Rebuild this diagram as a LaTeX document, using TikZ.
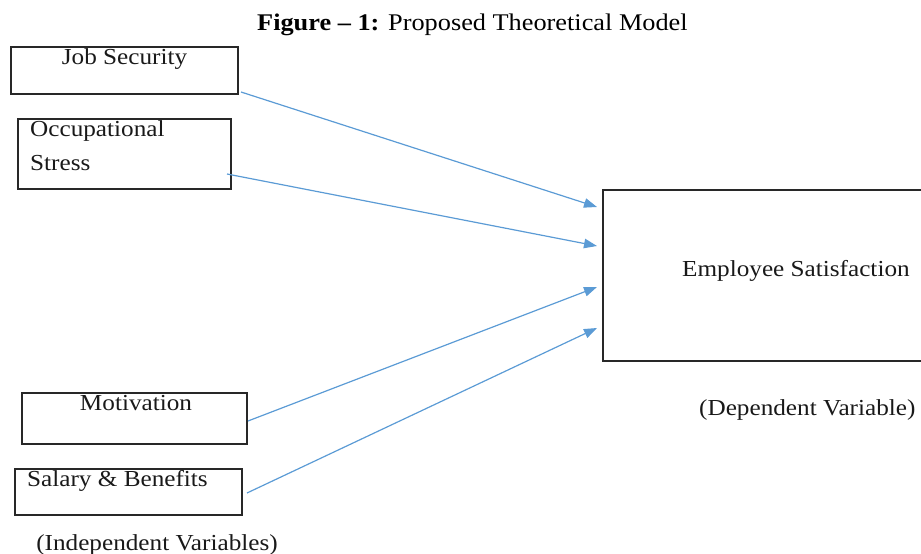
\documentclass[tikz,border=0pt]{standalone}
\usepackage{fontspec}
\setmainfont{Liberation Serif}[FakeStretch=1.1]
\usetikzlibrary{arrows.meta}
\definecolor{arrowblue}{RGB}{91,155,213}
\definecolor{boxgray}{RGB}{40,40,40}
\tikzset{
  varbox/.style={draw=boxgray, line width=1.1bp},
  lbl/.style={inner sep=0pt, font=\fontsize{23}{27}\selectfont, text=black!90},
  link/.style={draw=arrowblue, line width=1.2bp, -{Triangle[length=13bp,width=9.5bp]}}
}
\begin{document}
\begin{tikzpicture}[x=1bp,y=-1bp]
\useasboundingbox (0,0) rectangle (921,554);
\clip (0,0) rectangle (921,554);
% title
\node[inner sep=0pt, anchor=base west, font=\fontsize{24}{28}\selectfont] (title) at (257,31) {\textbf{Figure – 1:} Proposed Theoretical Model};
% boxes
\draw[varbox] (11,47) rectangle (238,94);
\draw[varbox] (18,119) rectangle (231,189);
\draw[varbox] (22,393) rectangle (247,444);
\draw[varbox] (15,469) rectangle (242,515);
\draw[varbox] (603,190) rectangle (930,361);
% labels
\node[lbl, anchor=base] (js) at (124.5,65) {Job Security};
\node[lbl, anchor=base west] (os1) at (30,137) {Occupational};
\node[lbl, anchor=base west] (os2) at (30,171) {Stress};
\node[lbl, anchor=base] (mo) at (136,410) {Motivation};
\node[lbl, anchor=base west] (sb) at (27,486) {Salary \& Benefits};
\node[lbl, anchor=base] (iv) at (157,550) {(Independent Variables)};
\node[lbl, anchor=base west] (es) at (682,277) {Employee Satisfaction};
\node[lbl, anchor=base west] (dv) at (699,415) {(Dependent Variable)};
% connector ends
\coordinate (s1) at (241,92);
\coordinate (s2) at (227,174);
\coordinate (s3) at (248,421);
\coordinate (s4) at (247,493);
\coordinate (e1) at (597,207);
\coordinate (e2) at (597,246);
\coordinate (e3) at (597,287);
\coordinate (e4) at (597,328);
\draw[link] (s1) -- (e1);
\draw[link] (s2) -- (e2);
\draw[link] (s3) -- (e3);
\draw[link] (s4) -- (e4);
\end{tikzpicture}
\end{document}
